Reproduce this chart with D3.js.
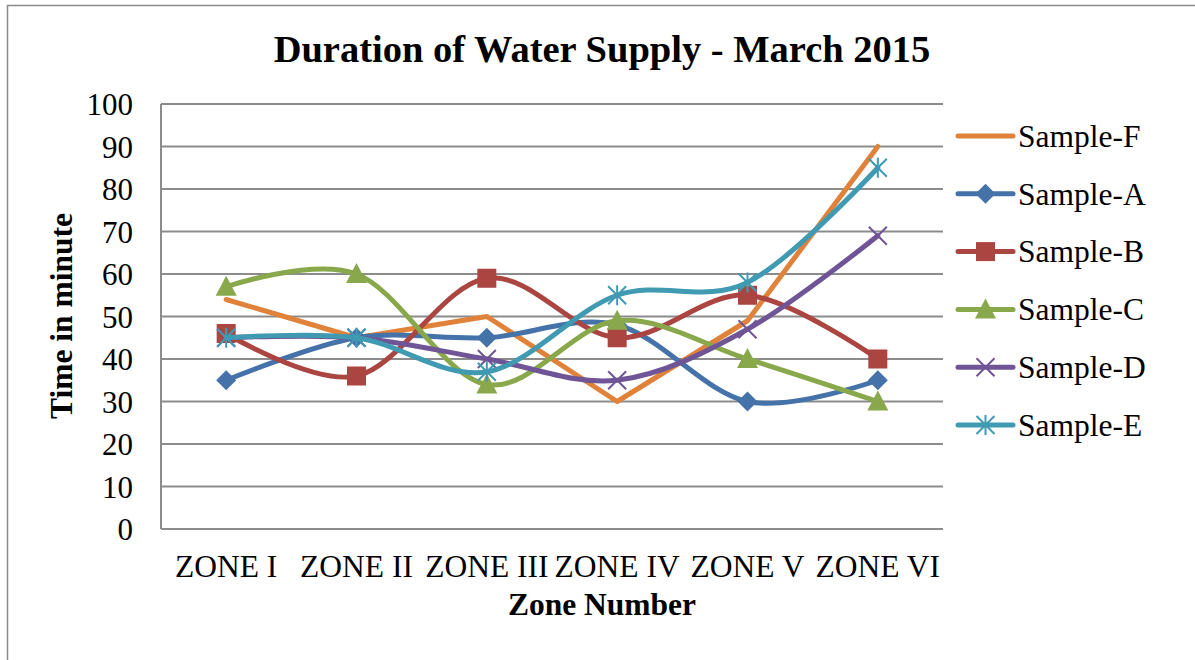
<!DOCTYPE html>
<html>
<head>
<meta charset="utf-8">
<script src="https://cdn.jsdelivr.net/npm/d3@7"></script>
<style>
  body { margin: 0; background: #fff; }
  text { font-family: "Liberation Serif", "Times New Roman", serif; fill: #000; }
</style>
</head>
<body>
<div id="chart"></div>
<script>
// Chart data
let zones = ["ZONE I", "ZONE II", "ZONE III", "ZONE IV", "ZONE V", "ZONE VI"];
let sampleF = [54, 45, 50, 30, 49, 90];
let sampleA = [35, 45, 45, 48, 30, 35];
let sampleB = [46, 36, 59, 45, 55, 40];
let sampleC = [57, 60, 34, 49, 40, 30];
let sampleD = [45, 45, 40, 35, 47, 69];
let sampleE = [45, 45, 37, 55, 58, 85];
let seriesNames = ["Sample-F", "Sample-A", "Sample-B", "Sample-C", "Sample-D", "Sample-E"];
let yTicks = [0, 10, 20, 30, 40, 50, 60, 70, 80, 90, 100];

let series = [
  { name: seriesNames[0], values: sampleF, color: "#e0823a", marker: null, smooth: false },
  { name: seriesNames[1], values: sampleA, color: "#4672aa", marker: "diamond", smooth: true },
  { name: seriesNames[2], values: sampleB, color: "#ab4541", marker: "square", smooth: true },
  { name: seriesNames[3], values: sampleC, color: "#89a84c", marker: "triangle", smooth: true },
  { name: seriesNames[4], values: sampleD, color: "#6f5596", marker: "x", smooth: true },
  { name: seriesNames[5], values: sampleE, color: "#3f9ab2", marker: "star", smooth: true }
];

let width = 1195,
    height = 660;

let plot = { left: 161, right: 943, top: 104, bottom: 529 };

let svg = d3.select("#chart")
      .append("svg")
      .attr("width", width)
      .attr("height", height);

// outer frame
svg.append("rect")
    .attr("x", 7.5).attr("y", 5.5)
    .attr("width", 1200).attr("height", 700)
    .style("fill", "none")
    .style("stroke", "#8a8a8a")
    .style("stroke-width", 1.5);

let x = d3.scalePoint()
      .domain(zones)
      .range([plot.left, plot.right])
      .padding(0.5);

let y = d3.scaleLinear()
      .domain([0, 100])
      .range([plot.bottom, plot.top]);

// gridlines
svg.append("g")
    .selectAll("line")
    .data(yTicks)
    .enter().append("line")
    .attr("x1", plot.left).attr("x2", plot.right)
    .attr("y1", d => y(d)).attr("y2", d => y(d))
    .style("stroke", "#8c8c8c")
    .style("stroke-width", 2);

// left axis line
svg.append("line")
    .attr("x1", plot.left).attr("x2", plot.left)
    .attr("y1", plot.top).attr("y2", plot.bottom)
    .style("stroke", "#8c8c8c")
    .style("stroke-width", 2);

// y tick labels
svg.append("g")
    .selectAll("text")
    .data(yTicks)
    .enter().append("text")
    .attr("x", 133)
    .attr("y", d => y(d))
    .attr("dy", "0.36em")
    .attr("text-anchor", "end")
    .style("font-size", "31px")
    .text(d => d);

// x tick labels
svg.append("g")
    .selectAll("text")
    .data(zones)
    .enter().append("text")
    .attr("x", d => x(d))
    .attr("y", 577)
    .attr("text-anchor", "middle")
    .style("font-size", "31.5px")
    .text(d => d);

// titles
svg.append("text")
    .attr("x", 602).attr("y", 62)
    .attr("text-anchor", "middle")
    .style("font-size", "38.5px")
    .style("font-weight", "bold")
    .text("Duration of Water Supply - March 2015");

svg.append("text")
    .attr("x", 602).attr("y", 615)
    .attr("text-anchor", "middle")
    .style("font-size", "31.5px")
    .style("font-weight", "bold")
    .text("Zone Number");

svg.append("text")
    .attr("transform", "translate(72, 316) rotate(-90)")
    .attr("text-anchor", "middle")
    .style("font-size", "31.5px")
    .style("font-weight", "bold")
    .text("Time in minute");

// marker drawing
function drawMarker(g, type, color) {
  if (type === "diamond") {
    g.append("path").attr("d", "M0,-10L10,0L0,10L-10,0Z").style("fill", color);
  } else if (type === "square") {
    g.append("rect").attr("x", -9.5).attr("y", -9.5).attr("width", 19).attr("height", 19).style("fill", color);
  } else if (type === "triangle") {
    g.append("path").attr("d", "M0,-11L10.5,9L-10.5,9Z").style("fill", color);
  } else if (type === "x") {
    g.append("path").attr("d", "M-9,-9L9,9M9,-9L-9,9").style("stroke", color).style("stroke-width", 2);
  } else if (type === "star") {
    g.append("path").attr("d", "M-9,-9L9,9M9,-9L-9,9M0,-10L0,10").style("stroke", color).style("stroke-width", 2);
  }
}

let smoothLine = d3.line()
      .x((d, i) => x(zones[i]))
      .y(d => y(d))
      .curve(d3.curveCardinal.tension(0));

let straightLine = d3.line()
      .x((d, i) => x(zones[i]))
      .y(d => y(d));

series.forEach(function(s) {
  let g = svg.append("g").attr("class", "series");
  g.append("path")
      .attr("d", (s.smooth ? smoothLine : straightLine)(s.values))
      .style("fill", "none")
      .style("stroke", s.color)
      .style("stroke-width", 5)
      .style("stroke-linejoin", "round")
      .style("stroke-linecap", "round");
  if (s.marker) {
    s.values.forEach(function(v, i) {
      let m = g.append("g").attr("transform", "translate(" + x(zones[i]) + "," + y(v) + ")");
      drawMarker(m, s.marker, s.color);
    });
  }
});

// legend
let legend = svg.append("g")
      .selectAll("g")
      .data(series)
      .enter().append("g")
      .attr("transform", (d, i) => "translate(958," + (136 + i * 57.8) + ")");

legend.append("line")
    .attr("x1", 0).attr("x2", 55)
    .style("stroke", d => d.color)
    .style("stroke-width", 5)
    .style("stroke-linecap", "round");

legend.each(function(d) {
  if (d.marker) {
    let m = d3.select(this).append("g").attr("transform", "translate(27.5,0)");
    drawMarker(m, d.marker, d.color);
  }
});

legend.append("text")
    .attr("x", 60)
    .attr("dy", "0.34em")
    .style("font-size", "31.5px")
    .text(d => d.name);
</script>
</body>
</html>
